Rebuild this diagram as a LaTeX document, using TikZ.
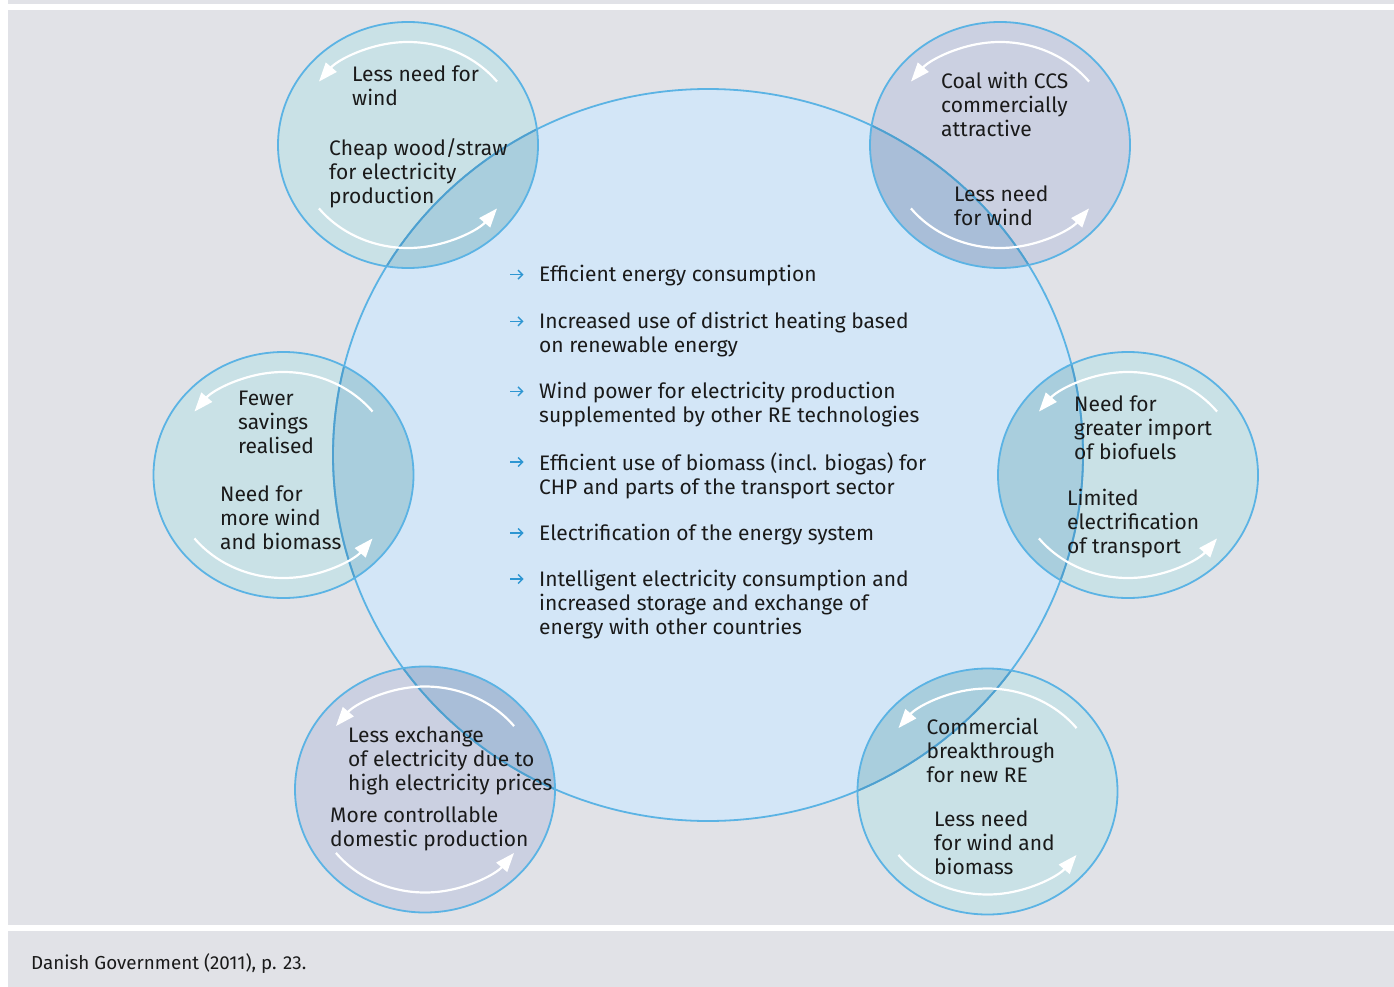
\documentclass[tikz,border=0pt]{standalone}
\usepackage{fontspec}
\setmainfont{Fira Sans}
\usetikzlibrary{arrows.meta}
\definecolor{bggray}{HTML}{E1E2E7}
\definecolor{mainfill}{HTML}{D3E6F7}
\definecolor{sT}{HTML}{C9E1E6}
\definecolor{sL}{HTML}{CBD0E1}
\definecolor{oT}{HTML}{A9CEDD}
\definecolor{oL}{HTML}{A9BED8}
\definecolor{edge}{HTML}{5BB3E4}
\definecolor{edgedark}{HTML}{4FA0CF}
\definecolor{tcol}{HTML}{1A1A1A}
\definecolor{bulcol}{HTML}{2E96D2}
\tikzset{
  txt/.style={anchor=north west, inner sep=0pt, align=left, text=tcol,
    font=\fontsize{21}{24}\selectfont},
  captxt/.style={anchor=north west, inner sep=0pt, align=left, text=tcol,
    font=\fontsize{18.8}{24}\selectfont},
  bulline/.style={draw=bulcol, line width=1.4pt, -{Straight Barb[length=4.5pt,width=9pt]}},
  warc/.style={draw=white, line width=2.2pt, -{Triangle[length=19pt,width=14pt]}},
  ring/.style={draw=edge, line width=1.8pt},
}
\begin{document}
\begin{tikzpicture}[x=1pt,y=-1pt]
\useasboundingbox (0,0) rectangle (1394,987);
\fill[white] (0,0) rectangle (1394,987);
\fill[bggray] (8,0) rectangle (1394,3.7);
\fill[bggray] (8,10) rectangle (1394,925);
\fill[bggray] (8,931) rectangle (1394,987);

% main circle
\fill[mainfill] (708,455) ellipse [x radius=375, y radius=366];

% small circles fills and overlaps
\foreach \cx/\cy/\c in {408/145/T, 1000/145/L, 283.5/475/T, 1128/475/T, 425/789.5/L, 987.5/791.5/T}{
  \fill[s\c] (\cx,\cy) ellipse [x radius=130, y radius=123];
  \begin{scope}
    \clip (708,455) ellipse [x radius=375, y radius=366];
    \fill[o\c] (\cx,\cy) ellipse [x radius=130, y radius=123];
  \end{scope}
}

% outlines
\draw[ring] (708,455) ellipse [x radius=375, y radius=366];
\foreach \cx/\cy in {408/145, 1000/145, 283.5/475, 1128/475, 425/789.5, 987.5/791.5}{
  \begin{scope}
    \clip (\cx,\cy) ellipse [x radius=130, y radius=123];
    \draw[draw=edgedark, line width=1.8pt] (708,455) ellipse [x radius=375, y radius=366];
  \end{scope}
  \draw[ring] (\cx,\cy) ellipse [x radius=130, y radius=123];
  \draw[warc] ([shift={(\cx,\cy)}] -38:113 and 103) arc [start angle=-38, end angle=-142, x radius=113, y radius=103];
  \draw[warc] ([shift={(\cx,\cy)}] 142:113 and 103) arc [start angle=142, end angle=38, x radius=113, y radius=103];
}

% circle texts
\node[txt] (tl1) at (352,64.2) {\strut Less need for\\wind};
\node[txt] (tl2) at (329,138.2) {\strut Cheap wood/straw\\for electricity\\production};
\node[txt] (tr1) at (941,71.5) {\strut Coal with CCS\\commercially\\attractive};
\node[txt] (tr2) at (954,184.9) {\strut Less need\\for wind};
\node[txt] (l1) at (238,388.9) {\strut Fewer\\savings\\realised};
\node[txt] (l2) at (220,484.9) {\strut Need for\\more wind\\and biomass};
\node[txt] (r1) at (1074,394.9) {\strut Need for\\greater import\\of biofuels};
\node[txt] (r2) at (1067,488.2) {\strut Limited\\electrification\\of transport};
\node[txt] (bl1) at (348,725.2) {\strut Less exchange\\of electricity due to\\high electricity prices};
\node[txt] (bl2) at (330,805.9) {\strut More controllable\\domestic production};
\node[txt] (br1) at (926.5,717.2) {\strut Commercial\\breakthrough\\for new RE};
\node[txt] (br2) at (934,809.9) {\strut Less need\\for wind and\\biomass};

% central list
\foreach \b/\t [count=\i] in {
  281.7/{Efficient energy consumption},
  328.3/{Increased use of district heating based\\on renewable energy},
  398.3/{Wind power for electricity production\\supplemented by other RE technologies},
  469/{Efficient use of biomass (incl. biogas) for\\CHP and parts of the transport sector},
  540/{Electrification of the energy system},
  586/{Intelligent electricity consumption and\\increased storage and exchange of\\energy with other countries}}{
  \coordinate (bs\i) at (510,\b-7);
  \coordinate (be\i) at (523.5,\b-7);
  \draw[bulline] (bs\i) -- (be\i);
  \node[txt] (c\i) at (539,\b-16.8) {\strut \t};
}

% caption
\node[captxt] (cap) at (31,952.2) {\strut Danish Government (2011), p. 23.};
\end{tikzpicture}
\end{document}
